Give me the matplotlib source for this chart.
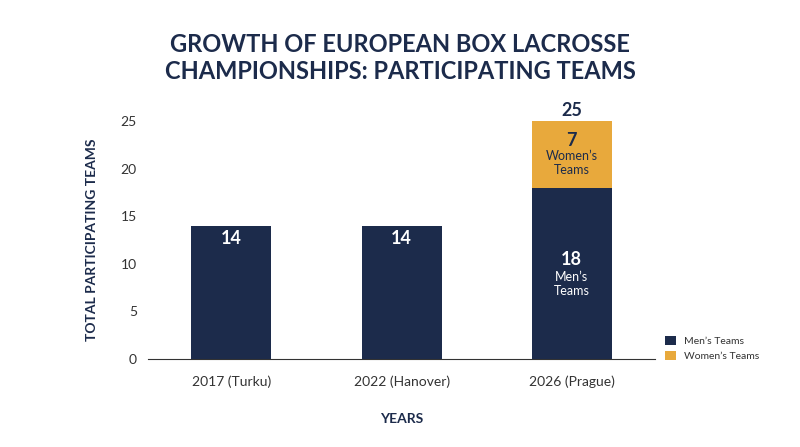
import matplotlib
matplotlib.use("Agg")
import matplotlib.pyplot as plt
import numpy as np

years = ["2017 (Turku)", "2022 (Hanover)", "2026 (Prague)"]
men = [14, 14, 18]
women = [0, 0, 7]
navy = "#1c2b4b"
gold = "#e8a93c"
plt.rcParams['font.family'] = ['Lato', 'DejaVu Sans']

fig = plt.figure(figsize=(8, 4.47), dpi=100)
ax = fig.add_axes([0.185, 0.197, 0.634, 0.532])
x = np.arange(len(years))
w = 0.47
ax.bar(x, men, w, color=navy, label="Men’s Teams", zorder=3)
ax.bar(x, women, w, bottom=men, color=gold, label="Women’s Teams", zorder=3)
ax.set_xlim(-0.49, 2.49)
ax.set_ylim(0, 25)
ax.set_yticks([0, 5, 10, 15, 20, 25])
ax.set_xticks(x)
ax.set_xticklabels(years, fontsize=10, color="#333333")
ax.tick_params(axis='y', labelsize=10, colors="#333333", length=0, pad=8)
ax.tick_params(axis='x', length=0, pad=12)
for s in ["top", "right", "left"]:
    ax.spines[s].set_visible(False)
ax.spines["bottom"].set_color("#333333")
ax.set_ylabel("TOTAL PARTICIPATING TEAMS", fontsize=10, fontweight="bold", color=navy, labelpad=16)
ax.set_xlabel("YEARS", fontsize=10, fontweight="bold", color=navy, labelpad=18)

for i in range(len(years)):
    if women[i] == 0:
        ax.text(x[i], men[i] - 1.3, str(men[i]), ha="center", va="center", color="white", fontsize=13, fontweight="bold", zorder=4)
    else:
        ax.text(x[i], 10.5, str(men[i]), ha="center", va="center", color="white", fontsize=13, fontweight="bold", zorder=4)
        ax.text(x[i], 7.9, "Men’s\nTeams", ha="center", va="center", color="white", fontsize=9, zorder=4, linespacing=1.2)
        ax.text(x[i], men[i] + women[i] - 2.0, str(women[i]), ha="center", va="center", color=navy, fontsize=13, fontweight="bold", zorder=4)
        ax.text(x[i], men[i] + women[i] - 4.4, "Women’s\nTeams", ha="center", va="center", color=navy, fontsize=9, zorder=4, linespacing=1.2)
        ax.text(x[i], men[i] + women[i] + 1.1, str(men[i] + women[i]), ha="center", va="center", color=navy, fontsize=13, fontweight="bold")

fig.text(0.5, 0.87, "GROWTH OF EUROPEAN BOX LACROSSE\nCHAMPIONSHIPS: PARTICIPATING TEAMS", ha="center", va="center",
         fontsize=17, fontweight="bold", color=navy, linespacing=1.2)
fig.legend(loc="upper left", bbox_to_anchor=(0.82, 0.27), frameon=False, fontsize=7.5,
           handlelength=1.0, handleheight=1.0, labelcolor="#333333")
fig.savefig("out.png", dpi=100, facecolor="white")
